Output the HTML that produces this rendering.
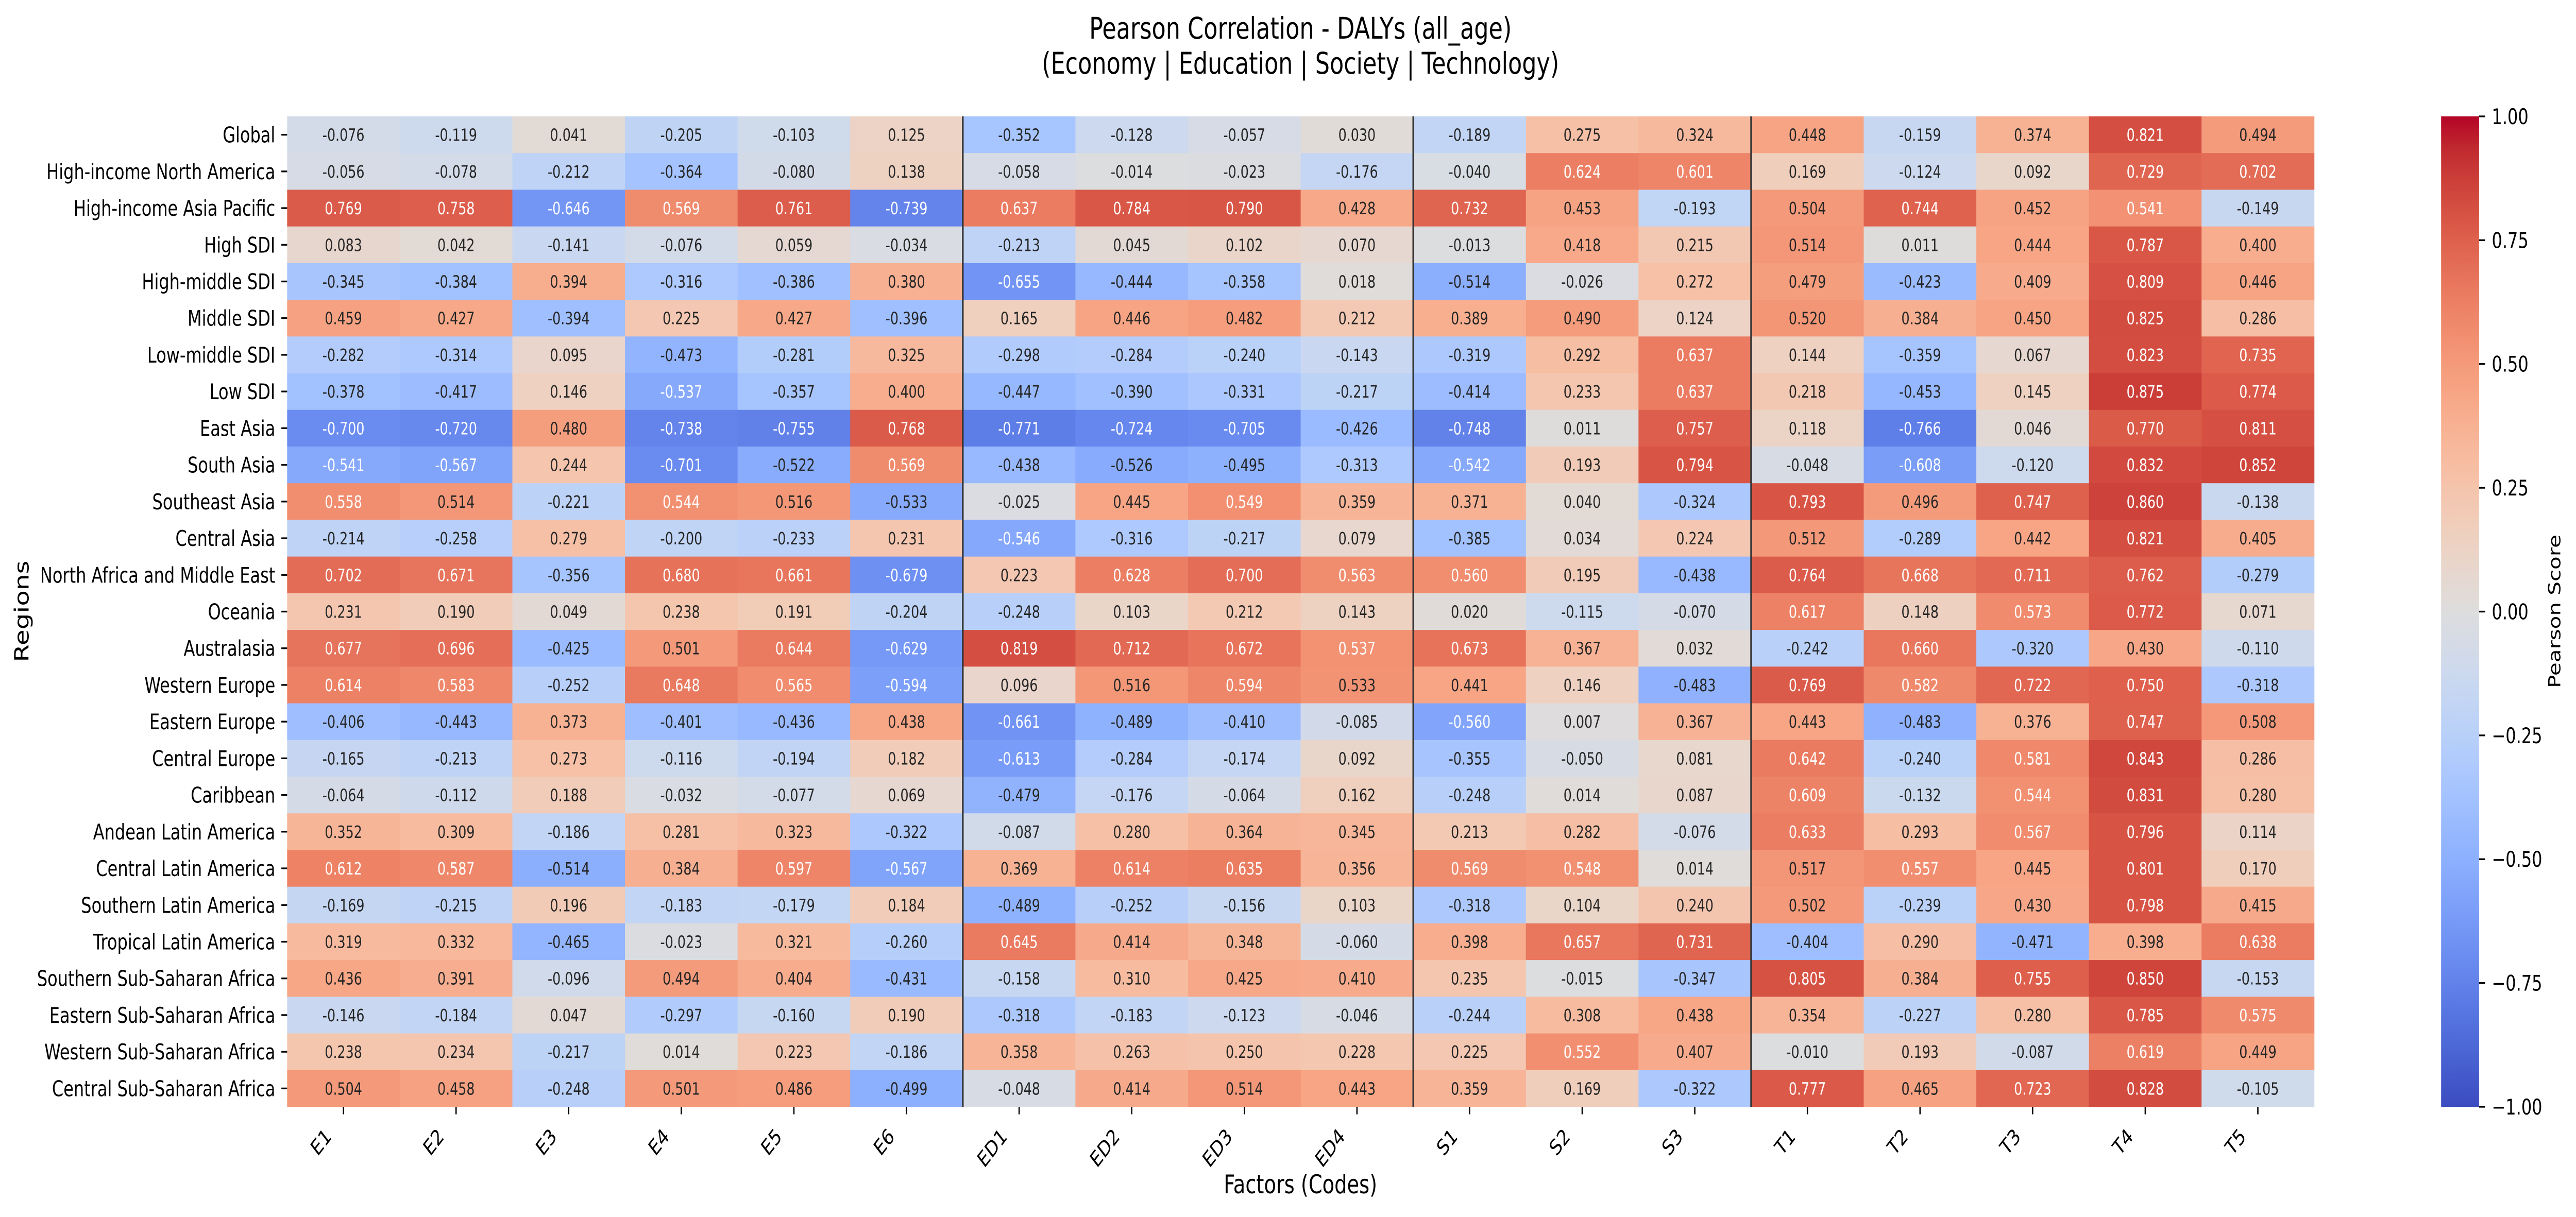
<!DOCTYPE html>
<html><head><meta charset="utf-8"><style>
html,body{margin:0;padding:0;background:#fff;overflow:hidden;width:100%;height:100%;}
svg{display:block;width:100vw;height:100vh;font-family:"DejaVu Sans","Liberation Sans",sans-serif;}
</style></head><body>
<svg id="chart" xmlns="http://www.w3.org/2000/svg" viewBox="0 0 6513 2363" preserveAspectRatio="none">
<rect x="0" y="0" width="6513" height="2363" fill="#fff"/>
<text x="3288" y="75" font-size="58" text-anchor="middle" fill="#000">Pearson Correlation - DALYs (all_age)</text>
<text x="3288" y="143" font-size="58" text-anchor="middle" fill="#000">(Economy | Education | Society | Technology)</text>
<g id="cells"></g>
<g id="dividers"></g>
<g id="yaxis"></g>
<g id="xaxis"></g>
<text x="3288" y="2317" font-size="50" text-anchor="middle" fill="#000">Factors (Codes)</text>
<text x="72" y="1187" font-size="50" text-anchor="middle" fill="#000" transform="rotate(-90 72 1187)">Regions</text>
<defs><linearGradient id="cbgrad" x1="0" y1="1" x2="0" y2="0"></linearGradient></defs>
<rect x="6172" y="226" width="96" height="1923" fill="url(#cbgrad)"/>
<g id="cbticks"></g>
<text x="6473" y="1187" font-size="42" text-anchor="middle" fill="#000" transform="rotate(-90 6473 1187)">Pearson Score</text>
</svg>
<script>
const factors = ["E1","E2","E3","E4","E5","E6","ED1","ED2","ED3","ED4","S1","S2","S3","T1","T2","T3","T4","T5"];
const regions = ["Global","High-income North America","High-income Asia Pacific","High SDI","High-middle SDI","Middle SDI","Low-middle SDI","Low SDI","East Asia","South Asia","Southeast Asia","Central Asia","North Africa and Middle East","Oceania","Australasia","Western Europe","Eastern Europe","Central Europe","Caribbean","Andean Latin America","Central Latin America","Southern Latin America","Tropical Latin America","Southern Sub-Saharan Africa","Eastern Sub-Saharan Africa","Western Sub-Saharan Africa","Central Sub-Saharan Africa"];
const groupBreaks = [6,10,13];
const cbTicks = [-1,-0.75,-0.5,-0.25,0,0.25,0.5,0.75,1];
const values = [
[-0.076,-0.119,0.041,-0.205,-0.103,0.125,-0.352,-0.128,-0.057,0.030,-0.189,0.275,0.324,0.448,-0.159,0.374,0.821,0.494],
[-0.056,-0.078,-0.212,-0.364,-0.080,0.138,-0.058,-0.014,-0.023,-0.176,-0.040,0.624,0.601,0.169,-0.124,0.092,0.729,0.702],
[0.769,0.758,-0.646,0.569,0.761,-0.739,0.637,0.784,0.790,0.428,0.732,0.453,-0.193,0.504,0.744,0.452,0.541,-0.149],
[0.083,0.042,-0.141,-0.076,0.059,-0.034,-0.213,0.045,0.102,0.070,-0.013,0.418,0.215,0.514,0.011,0.444,0.787,0.400],
[-0.345,-0.384,0.394,-0.316,-0.386,0.380,-0.655,-0.444,-0.358,0.018,-0.514,-0.026,0.272,0.479,-0.423,0.409,0.809,0.446],
[0.459,0.427,-0.394,0.225,0.427,-0.396,0.165,0.446,0.482,0.212,0.389,0.490,0.124,0.520,0.384,0.450,0.825,0.286],
[-0.282,-0.314,0.095,-0.473,-0.281,0.325,-0.298,-0.284,-0.240,-0.143,-0.319,0.292,0.637,0.144,-0.359,0.067,0.823,0.735],
[-0.378,-0.417,0.146,-0.537,-0.357,0.400,-0.447,-0.390,-0.331,-0.217,-0.414,0.233,0.637,0.218,-0.453,0.145,0.875,0.774],
[-0.700,-0.720,0.480,-0.738,-0.755,0.768,-0.771,-0.724,-0.705,-0.426,-0.748,0.011,0.757,0.118,-0.766,0.046,0.770,0.811],
[-0.541,-0.567,0.244,-0.701,-0.522,0.569,-0.438,-0.526,-0.495,-0.313,-0.542,0.193,0.794,-0.048,-0.608,-0.120,0.832,0.852],
[0.558,0.514,-0.221,0.544,0.516,-0.533,-0.025,0.445,0.549,0.359,0.371,0.040,-0.324,0.793,0.496,0.747,0.860,-0.138],
[-0.214,-0.258,0.279,-0.200,-0.233,0.231,-0.546,-0.316,-0.217,0.079,-0.385,0.034,0.224,0.512,-0.289,0.442,0.821,0.405],
[0.702,0.671,-0.356,0.680,0.661,-0.679,0.223,0.628,0.700,0.563,0.560,0.195,-0.438,0.764,0.668,0.711,0.762,-0.279],
[0.231,0.190,0.049,0.238,0.191,-0.204,-0.248,0.103,0.212,0.143,0.020,-0.115,-0.070,0.617,0.148,0.573,0.772,0.071],
[0.677,0.696,-0.425,0.501,0.644,-0.629,0.819,0.712,0.672,0.537,0.673,0.367,0.032,-0.242,0.660,-0.320,0.430,-0.110],
[0.614,0.583,-0.252,0.648,0.565,-0.594,0.096,0.516,0.594,0.533,0.441,0.146,-0.483,0.769,0.582,0.722,0.750,-0.318],
[-0.406,-0.443,0.373,-0.401,-0.436,0.438,-0.661,-0.489,-0.410,-0.085,-0.560,0.007,0.367,0.443,-0.483,0.376,0.747,0.508],
[-0.165,-0.213,0.273,-0.116,-0.194,0.182,-0.613,-0.284,-0.174,0.092,-0.355,-0.050,0.081,0.642,-0.240,0.581,0.843,0.286],
[-0.064,-0.112,0.188,-0.032,-0.077,0.069,-0.479,-0.176,-0.064,0.162,-0.248,0.014,0.087,0.609,-0.132,0.544,0.831,0.280],
[0.352,0.309,-0.186,0.281,0.323,-0.322,-0.087,0.280,0.364,0.345,0.213,0.282,-0.076,0.633,0.293,0.567,0.796,0.114],
[0.612,0.587,-0.514,0.384,0.597,-0.567,0.369,0.614,0.635,0.356,0.569,0.548,0.014,0.517,0.557,0.445,0.801,0.170],
[-0.169,-0.215,0.196,-0.183,-0.179,0.184,-0.489,-0.252,-0.156,0.103,-0.318,0.104,0.240,0.502,-0.239,0.430,0.798,0.415],
[0.319,0.332,-0.465,-0.023,0.321,-0.260,0.645,0.414,0.348,-0.060,0.398,0.657,0.731,-0.404,0.290,-0.471,0.398,0.638],
[0.436,0.391,-0.096,0.494,0.404,-0.431,-0.158,0.310,0.425,0.410,0.235,-0.015,-0.347,0.805,0.384,0.755,0.850,-0.153],
[-0.146,-0.184,0.047,-0.297,-0.160,0.190,-0.318,-0.183,-0.123,-0.046,-0.244,0.308,0.438,0.354,-0.227,0.280,0.785,0.575],
[0.238,0.234,-0.217,0.014,0.223,-0.186,0.358,0.263,0.250,0.228,0.225,0.552,0.407,-0.010,0.193,-0.087,0.619,0.449],
[0.504,0.458,-0.248,0.501,0.486,-0.499,-0.048,0.414,0.514,0.443,0.359,0.169,-0.322,0.777,0.465,0.723,0.828,-0.105]
];

const NS = "http://www.w3.org/2000/svg";
const L = 726, R = 5851, T = 226, B = 2149;
const vmin = -1, vmax = 1;
const cw = (R - L) / factors.length, rh = (B - T) / regions.length;
const xScale = i => L + i * cw;
const yScale = j => T + j * rh;
const cbY = v => B - (v - vmin) / (vmax - vmin) * (B - T);

const CW = [[59,76,192],[68,90,204],[77,104,215],[87,117,225],[98,130,234],[108,142,241],[119,154,247],[130,165,251],[141,176,254],[152,185,255],[163,194,255],[174,201,253],[184,208,249],[194,213,244],[204,217,238],[213,219,230],[221,221,221],[229,216,209],[236,211,197],[241,204,184],[245,196,172],[247,187,159],[247,177,147],[247,166,134],[244,154,122],[241,141,111],[236,127,99],[229,112,89],[222,96,77],[213,80,66],[203,62,56],[192,40,47],[180,4,38]];
function cmap(v){
  let t = Math.max(0, Math.min(1, (v - vmin) / (vmax - vmin))) * 32;
  let i = Math.min(31, Math.floor(t)), f = t - i;
  return CW[i].map((c,k)=>Math.round(c + (CW[i+1][k]-c)*f));
}
function lum(c){
  const l = c.map(x=>{x/=255; return x<=0.03928 ? x/12.92 : Math.pow((x+0.055)/1.055,2.4);});
  return 0.2126*l[0]+0.7152*l[1]+0.0722*l[2];
}
function mk(tag, attrs, parent){
  const el = document.createElementNS(NS, tag);
  for (const k in attrs) el.setAttribute(k, attrs[k]);
  parent.appendChild(el);
  return el;
}

const cells = document.getElementById("cells");
values.forEach((row, j) => {
  row.forEach((v, i) => {
    const c = cmap(v);
    const r = mk("rect", {x: xScale(i), y: yScale(j), width: cw + 0.6, height: rh + 0.6, fill: `rgb(${c[0]},${c[1]},${c[2]})`}, cells);
    
    
    const t = mk("text", {x: xScale(i) + cw/2, y: yScale(j) + rh/2 + 12, "font-size": 33, "text-anchor": "middle", fill: lum(c) > 0.408 ? "#262626" : "#ffffff"}, cells);
    
    
    t.textContent = v.toFixed(3);
  });
});

const div = document.getElementById("dividers");
groupBreaks.forEach(b => {
  const ln = mk("line", {x1: xScale(b), x2: xScale(b), y1: T, y2: B, stroke: "#333", "stroke-width": 4.2}, div);
  
  
});

const ya = document.getElementById("yaxis");
regions.forEach((name, j) => {
  const cy = yScale(j) + rh/2;
  const tk = mk("line", {x1: L - 14.6, x2: L, y1: cy, y2: cy, stroke: "#000", "stroke-width": 3.3}, ya);
  
  
  const t = mk("text", {x: L - 30, y: cy + 15, "font-size": 41.7, "text-anchor": "end", fill: "#000"}, ya);
  
  
  t.textContent = name;
});

const xa = document.getElementById("xaxis");
factors.forEach((name, i) => {
  const cx = xScale(i) + cw/2;
  const tk = mk("line", {x1: cx, x2: cx, y1: B, y2: B + 14.6, stroke: "#000", "stroke-width": 3.3}, xa);
  
  
  const ax = cx - 28, ay = 2209;
  const t = mk("text", {x: ax, y: ay, "font-size": 41.7, "text-anchor": "end", fill: "#000", transform: `rotate(-45 ${ax} ${ay})`}, xa);
  
  
  t.textContent = name;
});

const grad = document.getElementById("cbgrad");
CW.forEach((c, k) => {
  mk("stop", {offset: (k/32*100).toFixed(3) + "%", "stop-color": `rgb(${c[0]},${c[1]},${c[2]})`}, grad);
});
const cbt = document.getElementById("cbticks");
cbTicks.forEach(v => {
  const y = cbY(v);
  const tk = mk("line", {x1: 6268, x2: 6283, y1: y, y2: y, stroke: "#000", "stroke-width": 3.3}, cbt);
  
  
  const t = mk("text", {x: 6300, y: y + 15, "font-size": 41.7, fill: "#000"}, cbt);
  
  
  t.textContent = (v < 0 ? "\u2212" : "") + Math.abs(v).toFixed(2);
});
</script>
</body></html>
